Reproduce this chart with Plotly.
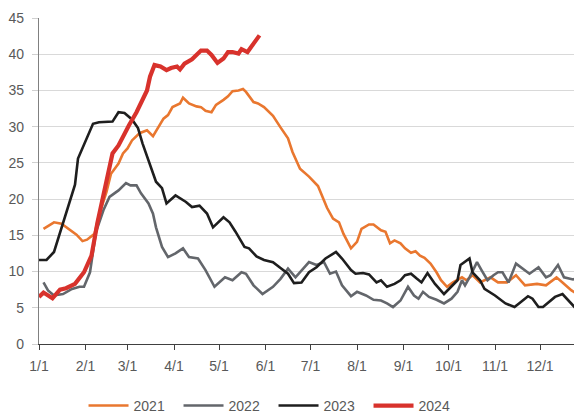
import plotly.graph_objects as go

BASE_YEAR = "2021"

# ---- data (month-day, value) ----
d2021 = ["01-04","01-11","01-16","01-23","01-26","01-30","02-02","02-07","02-10","02-15","02-18","02-23",
         "02-26","03-01","03-04","03-09","03-14","03-18","03-21","03-25","03-28","03-31","04-05","04-07",
         "04-11","04-16","04-19","04-22","04-26","04-29","05-04","05-07","05-10","05-14","05-17","05-19",
         "05-24","05-27","05-31","06-06","06-11","06-16","06-19","06-24","06-30","07-06","07-12","07-16",
         "07-20","07-23","07-28","08-01","08-04","08-09","08-12","08-17","08-20","08-23","08-26","08-30",
         "09-02","09-06","09-09","09-12","09-15","09-19","09-23","09-26","09-30","10-04","10-10","10-13",
         "10-17","10-22","10-29","11-03","11-09","11-15","11-21","11-29","12-05","12-12","12-16","12-22",
         "12-25","12-29"]
v2021 = [15.9,16.8,16.6,15.5,15.1,14.2,14.4,15.2,17.8,21.0,23.5,24.9,
         26.3,27.0,28.1,29.1,29.5,28.7,29.8,31.1,31.6,32.7,33.2,34.0,
         33.2,32.8,32.7,32.2,32.0,33.0,33.7,34.2,34.9,35.0,35.2,34.8,
         33.4,33.2,32.7,31.5,29.9,28.4,26.5,24.2,23.1,21.8,18.8,17.3,
         16.8,15.2,13.2,14.1,15.9,16.5,16.5,15.7,15.5,13.9,14.3,13.9,
         13.2,12.6,12.8,12.2,11.9,11.1,9.9,8.8,7.9,8.5,9.2,8.8,
         9.5,8.5,9.2,8.5,8.5,9.5,8.1,8.3,8.1,9.2,8.5,7.4,
         7.0,7.3]

d2022 = ["01-04","01-07","01-11","01-17","01-23","01-28","01-31","02-04","02-08","02-13","02-17","02-23",
         "02-28","03-03","03-07","03-10","03-15","03-18","03-20","03-24","03-28","04-02","04-07","04-11",
         "04-17","04-22","04-28","05-05","05-10","05-16","05-19","05-24","05-30","06-06","06-11","06-16",
         "06-21","06-30","07-05","07-10","07-14","07-18","07-22","07-28","08-01","08-07","08-12","08-17",
         "08-21","08-25","08-30","09-04","09-08","09-11","09-14","09-18","09-23","09-28","10-03","10-07",
         "10-10","10-12","10-15","10-20","10-23","10-27","10-31","11-03","11-06","11-10","11-15","11-21",
         "11-24","11-30","12-05","12-08","12-13","12-17","12-23","12-29"]
v2022 = [8.5,7.4,6.7,6.9,7.6,7.9,7.9,9.9,15.5,18.5,20.3,21.2,
         22.2,21.9,21.9,20.8,19.4,18.0,16.1,13.4,12.0,12.5,13.2,12.0,
         11.8,10.2,7.9,9.2,8.8,9.9,9.7,8.1,6.9,7.9,9.0,10.4,
         9.2,11.3,10.9,11.3,9.7,10.0,8.1,6.6,7.2,6.7,6.1,6.0,
         5.6,5.1,6.0,7.9,6.7,6.25,7.2,6.5,6.1,5.6,6.25,7.2,
         8.8,8.1,9.2,11.3,10.2,8.8,9.5,9.9,9.9,8.5,11.1,10.2,
         9.7,10.6,9.2,9.5,10.9,9.2,8.9,9.3]

d2023 = ["01-01","01-06","01-11","01-15","01-19","01-25","01-27","02-02","02-06","02-10","02-19","02-23",
         "02-27","03-04","03-08","03-11","03-16","03-20","03-24","03-27","04-02","04-09","04-13","04-18",
         "04-23","04-27","05-04","05-08","05-12","05-18","05-21","05-26","05-31","06-06","06-11","06-16",
         "06-20","06-25","06-30","07-05","07-11","07-18","07-22","07-28","07-31","08-05","08-09","08-14",
         "08-17","08-21","08-26","08-30","09-02","09-06","09-10","09-13","09-17","09-22","09-28","10-03",
         "10-07","10-09","10-13","10-15","10-17","10-22","10-25","11-01","11-08","11-14","11-17","11-23",
         "11-26","11-30","12-03","12-07","12-11","12-16","12-21","12-24","12-28"]
v2023 = [11.6,11.6,12.7,15.3,18.0,22.0,25.6,28.4,30.4,30.6,30.7,32.0,
         31.9,31.0,29.8,27.7,24.9,22.4,21.5,19.4,20.5,19.6,18.9,19.1,
         18.0,16.1,17.5,16.8,15.5,13.4,13.2,12.1,11.6,11.3,10.5,9.7,
         8.4,8.5,9.9,10.6,11.8,12.7,11.8,10.2,9.7,9.8,9.6,8.5,
         8.8,7.9,8.3,8.8,9.5,9.7,9.0,8.5,9.8,8.3,6.9,7.9,
         8.8,10.9,11.5,11.8,9.9,8.8,7.6,6.7,5.6,5.1,5.6,6.6,
         6.25,5.1,5.1,5.8,6.5,6.9,5.8,5.1,6.5]

d2024 = ["01-01","01-04","01-10","01-15","01-19","01-25","01-31","02-05","02-09","02-15","02-19","02-23",
         "02-27","03-02","03-07","03-11","03-14","03-16","03-19","03-23","03-27","03-30","04-03","04-05",
         "04-08","04-13","04-16","04-19","04-23","04-26","04-30","05-04","05-07","05-10","05-14","05-16",
         "05-20","05-24","05-28"]
v2024 = [6.5,7.1,6.3,7.5,7.7,8.3,9.9,12.2,16.8,22.4,26.3,27.4,
         29.1,30.2,32.0,33.9,35.0,36.9,38.5,38.3,37.8,38.1,38.3,37.9,
         38.7,39.3,39.9,40.5,40.5,39.9,38.8,39.4,40.3,40.3,40.1,40.7,
         40.3,41.5,42.6]

series_names = ["2021", "2022", "2023", "2024"]
series_dates = [d2021, d2022, d2023, d2024]
series_vals = [v2021, v2022, v2023, v2024]
colors = ["#E9772F", "#63666B", "#1E1E1E", "#D8322C"]
widths = [2.6, 2.6, 2.6, 4.2]

month_ticks = [f"{BASE_YEAR}-{m:02d}-01" for m in range(1, 13)]
month_labels = [f"{m}/1" for m in range(1, 13)]
y_ticks = [0, 5, 10, 15, 20, 25, 30, 35, 40, 45]

fig = go.Figure()
for name, ds, vs, c, w in zip(series_names, series_dates, series_vals, colors, widths):
    fig.add_trace(go.Scatter(
        x=[f"{BASE_YEAR}-{d}" for d in ds], y=vs, name=name, mode="lines",
        line=dict(color=c, width=w),
    ))

font_fam = "Liberation Sans, Arial, sans-serif"
fig.update_layout(
    width=582, height=416,
    margin=dict(l=31, r=8, t=10, b=80, autoexpand=False),
    paper_bgcolor="white", plot_bgcolor="white",
    font=dict(family=font_fam, size=14, color="#595959"),
    showlegend=True,
    legend=dict(orientation="h", x=0.082, xanchor="left", y=-0.19, yanchor="middle",
                font=dict(size=14, color="#595959"), itemwidth=40,
                entrywidth=40, entrywidthmode="pixels", tracegroupgap=0),
    xaxis=dict(
        type="date", range=[f"{BASE_YEAR}-01-01", f"{BASE_YEAR}-12-29"],
        tickvals=month_ticks, ticktext=month_labels, automargin=False,
        showgrid=False, zeroline=False,
        showline=True, linecolor="#404040", linewidth=1.3,
        ticks="outside", ticklen=5, tickcolor="#404040", ticklabelstandoff=4,
        tickfont=dict(size=14, color="#595959"),
    ),
    yaxis=dict(
        range=[0, 45], tickvals=y_ticks, automargin=False,
        showgrid=True, gridcolor="#D9D9D9", gridwidth=1.3,
        zeroline=False, showline=True, linecolor="#808080", linewidth=1.3,
        ticks="outside", ticklen=6, tickcolor="#D0D0D0", ticklabelstandoff=5,
        tickfont=dict(size=14, color="#595959"),
    ),
)

fig.write_html("out.html")
